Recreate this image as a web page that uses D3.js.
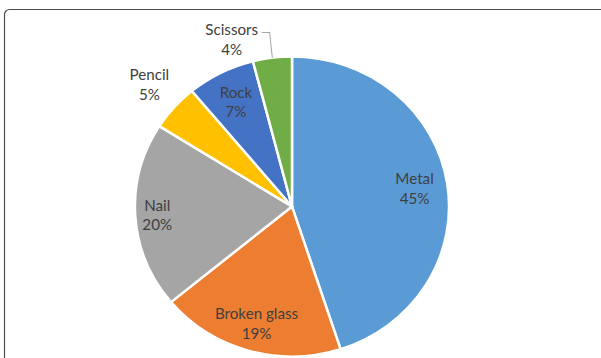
<!DOCTYPE html>
<html>
<head>
<meta charset="utf-8">
<script src="https://cdn.jsdelivr.net/npm/d3@7"></script>
<style>
  html, body { margin: 0; padding: 0; background: #fff; }
  svg { display: block; }
  text { font-family: Lato, "Open Sans", sans-serif; font-size: 14.5px; fill: #404040; }
</style>
</head>
<body>
<svg id="chart" width="601" height="358"></svg>
<script>
// Share of foreign-body categories (percent)
const categories = ["Metal", "Broken glass", "Nail", "Pencil", "Rock", "Scissors"];
const shares = [45, 19, 20, 5, 7, 4];
const sliceColors = ["#5B9BD5", "#ED7D31", "#A5A5A5", "#FFC000", "#4472C4", "#70AD47"];

const W = 601, H = 358;
const cx = 292, cy = 206.5, R = 150, stretchX = 1.047;

const svg = d3.select("#chart");

// chart frame
svg.append("rect")
  .attr("x", 4.5).attr("y", 9.5)
  .attr("width", 640).attr("height", 420)
  .attr("rx", 5).attr("ry", 5)
  .attr("fill", "none")
  .attr("stroke", "#4d4d4d")
  .attr("stroke-width", 1.2);

const g = svg.append("g")
  .attr("transform", `translate(${cx},${cy}) scale(${stretchX},1)`);

const pie = d3.pie().sort(null).value(d => d.value);
const arcs = pie(categories.map((c, i) => ({ name: c, value: shares[i], color: sliceColors[i] })));

const arc = d3.arc().innerRadius(0).outerRadius(R);

g.selectAll("path.slice")
  .data(arcs)
  .join("path")
  .attr("class", "slice")
  .attr("d", arc)
  .attr("fill", d => d.data.color)
  .attr("stroke", "#fff")
  .attr("stroke-width", 2.4)
  .attr("stroke-linejoin", "round");

// label placement: radius as a fraction of R, optional angular shift (degrees)
const placement = {
  "Metal":        { r: 0.79, shift: 0 },
  "Broken glass": { r: 0.81, shift: 0 },
  "Nail":         { r: 0.86, shift: 0 },
  "Pencil":       { r: 1.22, shift: 0.5 },
  "Rock":         { r: 0.785, shift: 0 },
  "Scissors":     { r: 1.18, shift: -11.8 }
};

function polar(angleRad, radius) {
  return [radius * Math.sin(angleRad), -radius * Math.cos(angleRad)];
}

const lineGap = 19.5;

arcs.forEach(d => {
  const p = placement[d.data.name];
  const mid = (d.startAngle + d.endAngle) / 2;
  const a = mid + p.shift * Math.PI / 180;
  const [lx, ly] = polar(a, R * p.r);

  const t = g.append("text")
    .attr("text-anchor", "middle")
    .attr("dominant-baseline", "central");
  const first = t.append("tspan").attr("x", lx).attr("y", ly - lineGap / 2).text(d.data.name);
  t.append("tspan").attr("x", lx).attr("y", ly + lineGap / 2).text(d.data.value + "%");

  if (d.data.name === "Scissors") {
    // leader line from the label to the slice edge
    const w = first.node().getComputedTextLength();
    const x0 = lx + w / 2 + 3.5;
    const yL = ly - lineGap / 2 + 3;
    const [ex, ey] = polar(mid, R);
    g.append("polyline")
      .attr("points", [[x0, yL], [x0 + 7.5, yL], [ex, ey]].map(q => q.join(",")).join(" "))
      .attr("fill", "none")
      .attr("stroke", "#a6a6a6")
      .attr("stroke-width", 1);
  }
});
</script>
</body>
</html>
